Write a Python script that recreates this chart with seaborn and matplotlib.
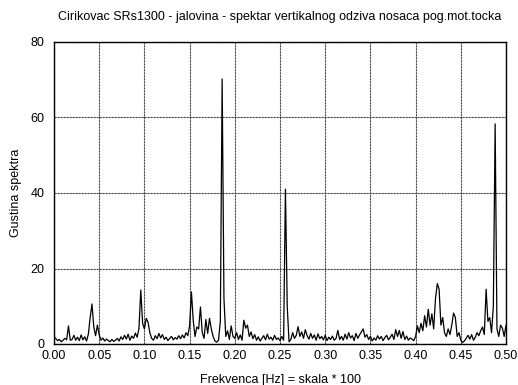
import numpy as np
import pandas as pd
import matplotlib
matplotlib.use("Agg")
import matplotlib.pyplot as plt
import seaborn as sns

# frequency grid step 0.002 from 0.000 to 0.500
freq_start = 0.0
freq_step = 0.002

density = [
    2.0, 1.4, 0.9, 1.2, 0.6, 1.0, 1.5, 1.1, 4.8, 1.0,      # 0.000
    1.2, 2.3, 1.0, 1.8, 0.9, 2.4, 1.1, 1.9, 0.8, 2.6,      # 0.020
    7.0, 10.6, 4.5, 2.2, 5.0, 2.5, 1.0, 1.6, 0.8, 1.3,     # 0.040
    0.9, 0.6, 1.2, 0.7, 1.0, 1.5, 0.8, 1.9, 1.2, 2.3,      # 0.060
    1.3, 2.6, 1.0, 2.1, 1.5, 2.9, 1.8, 4.2, 14.3, 5.5,     # 0.080
    4.0, 6.8, 5.8, 3.0, 1.5, 1.0, 2.2, 1.4, 2.8, 1.6,      # 0.100
    2.5, 1.2, 1.8, 0.9, 1.5, 2.0, 1.1, 1.7, 1.3, 2.2,      # 0.120
    1.4, 2.4, 1.6, 3.0, 2.2, 4.8, 13.8, 6.3, 2.0, 4.5,     # 0.140
    4.0, 9.8, 3.0, 1.5, 6.5, 2.8, 6.8, 4.0, 2.0, 0.8,      # 0.160
    0.5, 1.0, 6.0, 70.2, 12.0, 2.0, 3.5, 1.2, 4.8, 2.0,    # 0.180
    1.5, 3.0, 1.2, 2.4, 1.0, 6.3, 4.2, 5.0, 2.0, 3.2,      # 0.200
    1.4, 2.5, 1.0, 1.9, 0.8, 1.5, 2.2, 1.1, 2.6, 1.3,      # 0.220
    1.8, 1.0, 2.3, 1.2, 1.6, 0.9, 2.0, 1.0, 41.0, 10.0,    # 0.240
    0.6, 1.2, 3.0, 1.5, 2.3, 4.6, 2.0, 3.2, 1.5, 3.8,      # 0.260
    2.2, 1.3, 2.8, 1.5, 2.4, 1.0, 2.7, 1.4, 2.0, 1.1,      # 0.280
    2.3, 0.9, 1.8, 1.2, 2.1, 1.0, 1.5, 3.6, 1.2, 2.0,      # 0.300
    1.0, 2.6, 1.3, 3.0, 1.6, 2.2, 0.9, 2.8, 1.5, 2.4,      # 0.320
    3.2, 4.0, 1.8, 2.5, 1.2, 2.0, 0.8, 1.6, 1.0, 2.2,      # 0.340
    1.3, 2.0, 0.9, 1.7, 2.3, 1.1, 1.8, 2.6, 1.2, 3.8,      # 0.360
    2.0, 3.6, 1.5, 3.3, 1.2, 2.1, 1.0, 1.6, 1.3, 0.9,      # 0.380
    2.0, 4.8, 3.0, 5.5, 3.5, 7.5, 4.5, 9.2, 5.0, 8.0,      # 0.400
    4.0, 12.0, 16.0, 14.5, 5.0, 7.0, 3.0, 2.0, 4.0, 2.5,   # 0.420
    5.0, 8.2, 7.0, 2.0, 3.0, 1.0, 0.4, 0.8, 1.5, 2.3,      # 0.440
    1.3, 2.5, 1.0, 1.8, 3.0, 2.2, 3.5, 4.5, 2.5, 14.5,     # 0.460
    6.0, 7.0, 3.0, 10.0, 58.3, 4.0, 2.0, 5.0, 4.2, 2.0,    # 0.480
    5.0,                                                   # 0.500
]

x_ticks = [0.00, 0.05, 0.10, 0.15, 0.20, 0.25, 0.30, 0.35, 0.40, 0.45, 0.50]
y_ticks = [0, 20, 40, 60, 80]

title = "Cirikovac SRs1300 - jalovina - spektar vertikalnog odziva nosaca pog.mot.tocka"
xlabel = "Frekvenca [Hz] = skala * 100"
ylabel = "Gustina spektra"

freq = [round(freq_start + freq_step * i, 3) for i in range(len(density))]
df = pd.DataFrame({"freq": freq, "density": density})

sns.set_theme(style="white")
plt.rcParams['font.family'] = ['Liberation Sans', 'DejaVu Sans']

fig = plt.figure(figsize=(5.18, 3.85), dpi=100)
ax = fig.add_axes([54/518, 1-344/385, (506-54)/518, (344-42)/385])

sns.lineplot(data=df, x="freq", y="density", ax=ax, color="black", linewidth=0.9)

ax.set_xlim(0, 0.5)
ax.set_ylim(0, 80)
ax.set_xticks(x_ticks)
ax.set_xticklabels([f"{t:.2f}" for t in x_ticks])
ax.set_yticks(y_ticks)
ax.set_yticklabels([str(t) for t in y_ticks])
ax.tick_params(axis="x", labelsize=9, length=0, pad=4, colors="black")
ax.tick_params(axis="y", labelsize=9, length=0, pad=7, colors="black")
for lbl in ax.get_yticklabels():
    lbl.set_verticalalignment("center_baseline")

ax.grid(True, color="#444444", linestyle=(0, (2, 0.7)), linewidth=0.8)
ax.set_axisbelow(True)
for s in ax.spines.values():
    s.set_color("black")
    s.set_linewidth(1.0)

ax.set_title(title, fontsize=9, pad=16, color="black")
ax.set_xlabel(xlabel, fontsize=9, labelpad=9, color="black")
ax.set_ylabel(ylabel, fontsize=9, labelpad=6, color="black")

fig.savefig("out.png", dpi=100, facecolor="white")
